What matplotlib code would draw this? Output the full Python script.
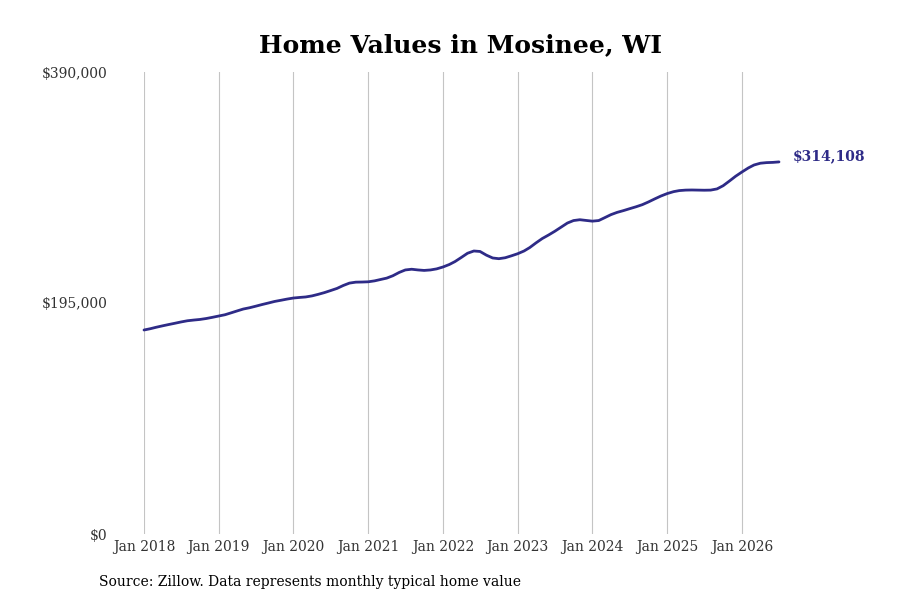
import numpy as np
import pandas as pd
import matplotlib
matplotlib.use("Agg")
import matplotlib.pyplot as plt
import matplotlib.dates as mdates

# monthly typical home value, thousands of dollars, Jan 2018 .. Jul 2026
v2018 = [172.2, 173.3, 174.5, 175.7, 176.8, 177.9, 179.0, 180.0, 180.6, 181.1, 181.9, 182.9]
v2019 = [184.0, 185.1, 186.6, 188.3, 189.9, 191.0, 192.3, 193.7, 195.0, 196.3, 197.3, 198.3]
v2020 = [199.2, 199.7, 200.1, 201.0, 202.3, 203.8, 205.5, 207.3, 209.8, 211.8, 212.6, 212.7]
v2021 = [212.9, 213.7, 214.8, 216.0, 218.0, 220.8, 222.9, 223.5, 222.9, 222.5, 222.9, 223.8]
v2022 = [225.4, 227.5, 230.0, 233.5, 237.0, 238.9, 238.5, 235.4, 233.0, 232.4, 233.2, 234.8]
v2023 = [236.6, 238.9, 241.8, 245.8, 249.4, 252.4, 255.5, 259.0, 262.5, 264.6, 265.3, 264.7]
v2024 = [264.1, 264.6, 267.0, 269.6, 271.5, 273.0, 274.6, 276.2, 278.0, 280.3, 282.9, 285.3]
v2025 = [287.4, 289.0, 289.9, 290.3, 290.4, 290.3, 290.2, 290.3, 291.3, 294.0, 298.0, 302.0]
v2026 = [305.6, 309.0, 311.5, 313.0, 313.5, 313.7, 314.108]

values = np.array(v2018 + v2019 + v2020 + v2021 + v2022 + v2023 + v2024 + v2025 + v2026) * 1000
dates = pd.date_range("2018-01-01", periods=len(values), freq="MS")
tick_years = list(range(2018, 2027))
yticks = [0, 195000, 390000]

navy = "#2e2b87"

fig = plt.figure(figsize=(9, 6), dpi=100)
ax = fig.add_axes([144/900, 1 - 534/600, (779 - 144)/900, (534 - 72)/600])

ax.plot(dates, values, color=navy, lw=2, clip_on=False, solid_capstyle="round")

ax.set_xlim(dates[0], dates[-1])
ax.set_ylim(0, 390000)

ax.set_xticks([pd.Timestamp(f"{y}-01-01") for y in tick_years])
ax.xaxis.set_major_formatter(mdates.DateFormatter("Jan %Y"))
ax.set_yticks(yticks)
ax.set_yticklabels(["$" + format(t, ",") for t in yticks])

ax.grid(axis="x", color="#c4c4c4", lw=0.8)
ax.set_axisbelow(True)
for s in ax.spines.values():
    s.set_visible(False)
ax.tick_params(axis="both", length=0, labelsize=10, colors="#333333")
ax.tick_params(axis="y", pad=26.2)
ax.tick_params(axis="x", pad=4)
for lab in ax.get_xticklabels() + ax.get_yticklabels():
    lab.set_family("DejaVu Serif")

ax.annotate("$" + format(round(values[-1]), ","), xy=(dates[-1], values[-1]),
            xytext=(10, 4), textcoords="offset points", ha="left", va="center",
            color=navy, fontsize=10, fontweight="bold", family="DejaVu Serif")

fig.text(0.512, 0.925, "Home Values in Mosinee, WI", ha="center", va="center",
         fontsize=18, fontweight="bold", family="DejaVu Serif")
fig.text(99/900, 1 - 582/600, "Source: Zillow. Data represents monthly typical home value",
         ha="left", va="center", fontsize=10, family="DejaVu Serif")

fig.savefig("out.png", dpi=100)
